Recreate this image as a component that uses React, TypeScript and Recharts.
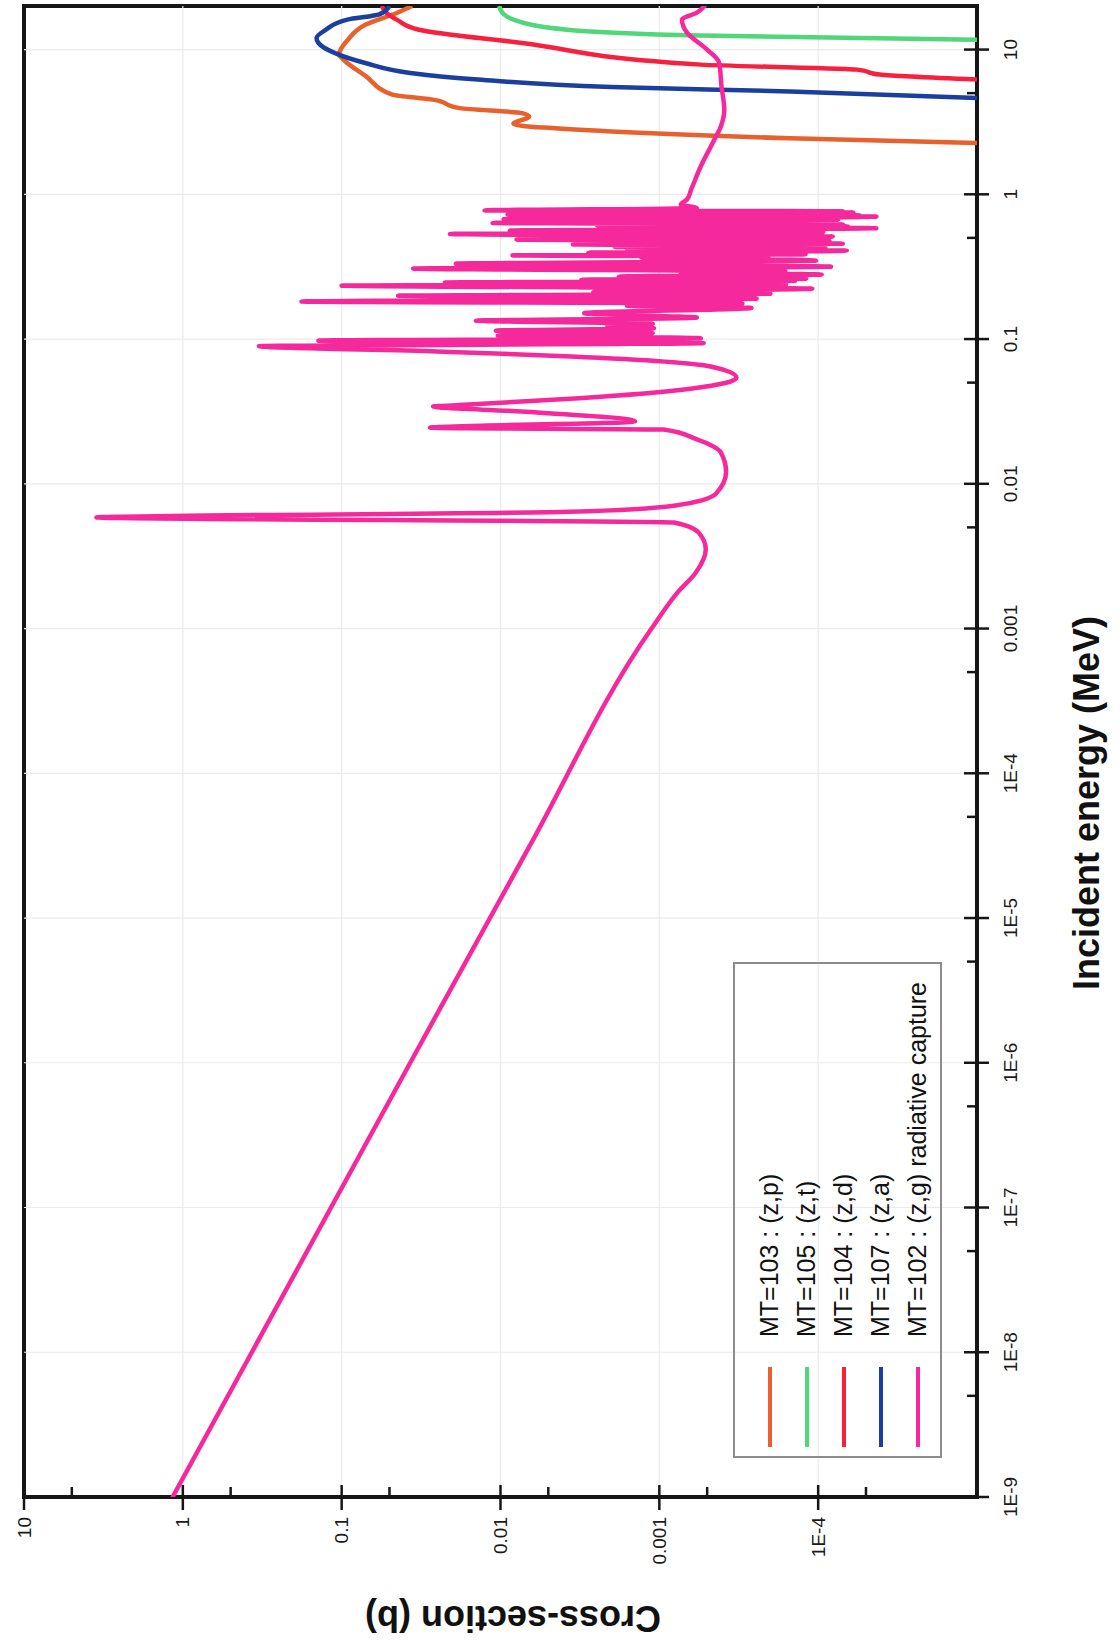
import React from 'react';
import { LineChart, Line, XAxis, YAxis, ReferenceLine, ReferenceArea, Legend, Label } from 'recharts';

// energy axis (MeV), log
const energyTicks = [1e-9, 1e-8, 1e-7, 1e-6, 1e-5, 1e-4, 1e-3, 0.01, 0.1, 1, 10];
const energyTickLabels = ['1E-9', '1E-8', '1E-7', '1E-6', '1E-5', '1E-4', '0.001', '0.01', '0.1', '1', '10'];
const energyMinorTicks = [5e-9, 5e-8, 5e-7, 5e-6, 5e-5, 5e-4, 5e-3, 0.05, 0.5, 5];

// cross-section axis (b), log
const xsTicks = [1e-4, 1e-3, 0.01, 0.1, 1, 10];
const xsTickLabels = ['1E-4', '0.001', '0.01', '0.1', '1', '10'];
const xsMinorTicks = [5e-5, 5e-4, 5e-3, 0.05, 0.5, 5];

const seriesNames = [
    'MT=103 : (z,p)',
    'MT=105 : (z,t)',
    'MT=104 : (z,d)',
    'MT=107 : (z,a)',
    'MT=102 : (z,g) radiative capture',
];

// [energy MeV, cross-section b]
const zpPoints = [
    [2.26, 1e-5], [2.44, 1.5e-4], [2.72, 2.0e-3], [3.07, 8.3e-3], [3.45, 6.6e-3], [3.64, 7.3e-3],
    [3.94, 0.018], [4.51, 0.0267], [4.88, 0.0479], [6.55, 0.0705], [8.53, 0.0975], [9.24, 0.104],
    [11.7, 0.0914], [14.9, 0.0705], [17.9, 0.045], [20, 0.036],
];

const ztPoints = [
    [11.7, 1e-5], [12.5, 5.5e-4], [13.7, 3.8e-3], [16.1, 8.3e-3], [17.5, 9.5e-3], [20, 0.0102],
];

const zdPoints = [
    [6.21, 1e-5], [6.72, 4.1e-5], [7.27, 5.7e-5], [7.87, 5.5e-4], [11.1, 7.3e-3], [13.7, 0.0326],
    [16.1, 0.045], [17.5, 0.051], [20, 0.056],
];

const zaPoints = [
    [4.63, 1e-5], [5.14, 1.5e-4], [5.51, 2.0e-3], [6.21, 0.0139], [6.9, 0.037], [8.07, 0.071],
    [9.48, 0.111], [11.1, 0.14], [12.0, 0.144], [13.7, 0.126], [16.1, 0.092], [17.5, 0.058], [20, 0.05],
];

const zgPoints = [
    [1e-9, 1.16], [1e-6, 0.037], [3.2e-5, 6.5e-3], [1e-3, 1.12e-3], [1.8e-3, 7.6e-4], [2.43e-3, 5.9e-4],
    [3.53e-3, 5.1e-4], [4.6e-3, 5.65e-4], [5.4e-3, 8.1e-4], [5.86e-3, 3.5], [6.4e-3, 3.7e-3],
    [7.06e-3, 8.1e-4], [8.54e-3, 4.4e-4], [0.0121, 3.8e-4], [0.0165, 4.1e-4], [0.0203, 5.8e-4],
    [0.0237, 9.4e-4], [0.0244, 0.0278], [0.027, 1.42e-3], [0.0316, 7.4e-3], [0.0342, 0.0266],
    [0.0351, 0.017], [0.039, 3.2e-3], [0.0456, 6.2e-4], [0.0541, 3.27e-4], [0.0647, 4.75e-4],
    [0.0759, 3.58e-3], [0.0822, 0.0251],
    // resonance forest
    [0.0893, 0.332], [0.0938, 5.26e-4], [0.0975, 0.14], [0.1014, 5.48e-4], [0.1054, 0.0104],
    [0.1099, 1.1e-3], [0.1143, 0.0107], [0.1188, 1.08e-3], [0.1239, 2.13e-3], [0.1276, 1.1e-3],
    [0.134, 0.0143], [0.1406, 5.81e-4], [0.151, 2.97e-3], [0.1641, 2.63e-4], [0.17, 1.6e-3],
    [0.176, 3.0e-4], [0.1816, 0.179], [0.1901, 2.44e-4], [0.1995, 0.0441], [0.206, 2.0e-4],
    [0.212, 2.6e-3], [0.2228, 1.09e-4], [0.2339, 0.1], [0.2393, 1.59e-4], [0.2455, 0.0224],
    [0.253, 1.4e-4], [0.257, 3.1e-3], [0.2612, 1.19e-4], [0.27, 1.8e-3], [0.279, 9.5e-5],
    [0.2877, 7.33e-4], [0.2944, 1.61e-4], [0.3069, 0.0355], [0.3162, 8.3e-5], [0.3319, 0.0191],
    [0.3483, 1.03e-4], [0.3656, 1.3e-3], [0.3707, 2.06e-4], [0.3784, 8.39e-3], [0.385, 1.2e-4],
    [0.395, 2.8e-3], [0.4083, 6.6e-5], [0.42, 1.6e-3], [0.426, 9.0e-5], [0.4335, 1.92e-3],
    [0.444, 1.0e-4], [0.45, 3.5e-3], [0.456, 7.0e-5], [0.466, 2.2e-3], [0.476, 8.5e-5],
    [0.4864, 7.92e-3], [0.494, 1.1e-4], [0.501, 2.0e-3], [0.5105, 8.1e-5], [0.5321, 0.0208],
    [0.5483, 9.3e-5], [0.561, 8.75e-3], [0.5834, 4.3e-5], [0.592, 1.7e-3], [0.6, 6.5e-5],
    [0.6081, 2.46e-3], [0.618, 7.0e-5], [0.6339, 0.0112], [0.6531, 8.9e-5], [0.66, 1.6e-3],
    [0.667, 7.5e-5], [0.6745, 9.55e-3], [0.7015, 4.3e-5], [0.71, 2.0e-3], [0.717, 5.5e-5],
    [0.7244, 9.02e-3], [0.7482, 6.0e-5], [0.756, 1.4e-3], [0.764, 7.0e-5], [0.7745, 0.0126],
    [0.8035, 5.81e-4], [0.8492, 7.33e-4],
    // fast region
    [0.92, 6.7e-4], [1.08, 6.3e-4], [1.55, 5.5e-4], [2.39, 4.5e-4], [2.94, 4.1e-4], [3.85, 3.9e-4],
    [5.55, 4.06e-4], [8.1, 4.2e-4], [10, 5.0e-4], [13.1, 6.7e-4], [16.1, 7.2e-4], [18, 5.8e-4], [20, 5.2e-4],
];

const toRows = (pts: number[][]) => pts.map(([e, xs]) => ({ e, xs }));

const FONT = '"Liberation Sans", Arial, Helvetica, sans-serif';
const INK = '#161616';

// chart is drawn landscape and turned a quarter turn, like the scanned page
const W = 1648;
const H = 1120;

const EnergyTick = (props: any) => {
    const { x, y, payload } = props;
    const axisY = y - 26; // tickSize + tickMargin
    const i = energyTicks.indexOf(payload.value);
    if (i < 0) {
        return <line x1={x} x2={x} y1={axisY - 10} y2={axisY} stroke={INK} strokeWidth={2.5} />;
    }
    return (
        <g>
            <line x1={x} x2={x} y1={axisY - 13} y2={axisY + 12} stroke={INK} strokeWidth={2.5} />
            <text x={x} y={y} dy="0.72em" textAnchor="middle" fontSize={19} fontFamily={FONT} fill="#1a1a1a">
                {energyTickLabels[i]}
            </text>
        </g>
    );
};

const XsTick = (props: any) => {
    const { x, y, payload } = props;
    const axisX = x + 20;
    const i = xsTicks.indexOf(payload.value);
    if (i < 0) {
        return <line x1={axisX} x2={axisX + 10} y1={y} y2={y} stroke={INK} strokeWidth={2.5} />;
    }
    return (
        <g>
            <line x1={axisX - 13} x2={axisX + 12} y1={y} y2={y} stroke={INK} strokeWidth={2.5} />
            <text x={x} y={y} dy="0.35em" textAnchor="end" fontSize={19} fontFamily={FONT} fill="#1a1a1a">
                {xsTickLabels[i]}
            </text>
        </g>
    );
};

const renderLegend = (props: any) => {
    const items = [...(props.payload || [])].sort(
        (a: any, b: any) => seriesNames.indexOf(a.value) - seriesNames.indexOf(b.value)
    );
    return (
        <div
            style={{
                width: 496,
                height: 209,
                boxSizing: 'border-box',
                border: '2px solid #8c8c8c',
                paddingTop: 16,
                fontFamily: FONT,
                fontSize: 25,
                color: '#111',
            }}
        >
            {items.map((item: any) => (
                <div key={item.value} style={{ display: 'flex', alignItems: 'center', height: 37 }}>
                    <span style={{ display: 'inline-block', width: 80, height: 4, marginLeft: 9, background: item.color }} />
                    <span style={{ marginLeft: 30, whiteSpace: 'nowrap' }}>{item.value}</span>
                </div>
            ))}
        </div>
    );
};

export default function App() {
    return (
        <div style={{ position: 'absolute', left: 0, top: 0, width: H, height: W, overflow: 'hidden', background: '#fff' }}>
            <div
                style={{
                    position: 'absolute',
                    left: 0,
                    top: 0,
                    width: W,
                    height: H,
                    transformOrigin: '0 0',
                    transform: `translate(0px, ${W}px) rotate(-90deg)`,
                }}
            >
                <LineChart width={W} height={H} margin={{ top: 24, right: 6, bottom: 0, left: 0 }}>
                    <XAxis
                        dataKey="e"
                        type="number"
                        scale="log"
                        domain={[1e-9, 20]}
                        allowDataOverflow
                        ticks={[...energyTicks, ...energyMinorTicks]}
                        interval={0}
                        tick={<EnergyTick />}
                        tickLine={false}
                        axisLine={false}
                        tickSize={12}
                        tickMargin={14}
                        height={143}
                    >
                        <Label
                            content={() => (
                                <text x={845} y={1099} textAnchor="middle" fontSize={36} fontWeight="bold" fontFamily={FONT} fill="#111">
                                    Incident energy (MeV)
                                </text>
                            )}
                        />
                    </XAxis>
                    <YAxis
                        dataKey="xs"
                        type="number"
                        scale="log"
                        domain={[1e-5, 10]}
                        allowDataOverflow
                        ticks={[...xsTicks, ...xsMinorTicks]}
                        interval={0}
                        tick={<XsTick />}
                        tickLine={false}
                        axisLine={false}
                        tickSize={13}
                        tickMargin={7}
                        width={151}
                    >
                        <Label
                            content={() => (
                                <text
                                    x={30}
                                    y={513}
                                    transform="rotate(-90 30 513)"
                                    textAnchor="middle"
                                    dominantBaseline="central"
                                    fontSize={36}
                                    fontWeight="bold"
                                    fontFamily={FONT}
                                    fill="#111"
                                >
                                    Cross-section (b)
                                </text>
                            )}
                        />
                    </YAxis>

                    {/* faint decade grid */}
                    {energyTicks.slice(1).map((v) => (
                        <ReferenceLine key={'gx' + v} x={v} stroke="#ebebeb" strokeWidth={1.2} />
                    ))}
                    {xsTicks.slice(0, -1).map((v) => (
                        <ReferenceLine key={'gy' + v} y={v} stroke="#ebebeb" strokeWidth={1.2} />
                    ))}

                    <Legend
                        layout="vertical"
                        align="center"
                        verticalAlign="middle"
                        wrapperStyle={{ left: 190, top: 733, width: 496, height: 209 }}
                        content={renderLegend}
                    />

                    <Line data={toRows(zpPoints)} dataKey="xs" name={seriesNames[0]} type="monotone" stroke="#e8612c" strokeWidth={4.5} strokeLinejoin="round" dot={false} isAnimationActive={false} />
                    <Line data={toRows(ztPoints)} dataKey="xs" name={seriesNames[1]} type="monotone" stroke="#52d67a" strokeWidth={4.5} strokeLinejoin="round" dot={false} isAnimationActive={false} />
                    <Line data={toRows(zdPoints)} dataKey="xs" name={seriesNames[2]} type="monotone" stroke="#f7213f" strokeWidth={4.5} strokeLinejoin="round" dot={false} isAnimationActive={false} />
                    <Line data={toRows(zaPoints)} dataKey="xs" name={seriesNames[3]} type="monotone" stroke="#1b3f9e" strokeWidth={4.5} strokeLinejoin="round" dot={false} isAnimationActive={false} />
                    <Line data={toRows(zgPoints)} dataKey="xs" name={seriesNames[4]} type="monotone" stroke="#f5299c" strokeWidth={4.5} strokeLinejoin="round" strokeLinecap="round" dot={false} isAnimationActive={false} />

                    {/* plot frame */}
                    <ReferenceArea x1={1e-9} x2={20} y1={1e-5} y2={10} fill="none" fillOpacity={0} stroke={INK} strokeWidth={4} />
                </LineChart>
            </div>
        </div>
    );
}
